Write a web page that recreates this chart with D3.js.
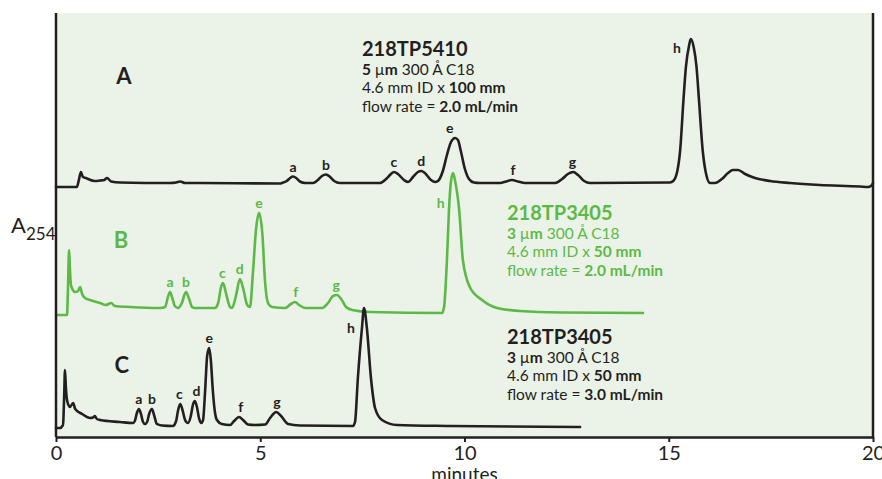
<!DOCTYPE html>
<html>
<head>
<meta charset="utf-8">
<script src="https://cdn.jsdelivr.net/npm/d3@7"></script>
<style>
  html, body { margin: 0; padding: 0; background: #ffffff; }
  svg { display: block; font-family: Lato, "Noto Sans", sans-serif; }
</style>
</head>
<body>
<svg id="chart" width="882" height="479"></svg>
<script>
// Retention time (minutes) and detector response above each trace's own baseline.
const traceATime = [0.00,0.51,0.56,0.61,0.66,0.73,0.95,1.08,1.18,1.25,1.35,1.57,2.79,2.94,3.04,3.16,3.53,5.48,5.53,5.65,5.73,5.80,5.88,5.97,6.10,6.29,6.41,6.51,6.61,6.71,6.81,6.95,7.93,8.08,8.20,8.27,8.37,8.52,8.62,8.74,8.86,8.94,9.03,9.18,9.28,9.35,9.47,9.57,9.67,9.77,9.84,9.91,10.01,10.11,10.23,10.38,10.87,11.02,11.16,11.31,11.48,12.22,12.39,12.53,12.66,12.78,12.93,13.07,15.03,15.11,15.21,15.28,15.36,15.42,15.50,15.54,15.61,15.68,15.74,15.83,15.92,16.01,16.13,16.30,16.45,16.57,16.70,16.87,17.11,17.48,17.97,18.70,19.68,19.88,19.95,20.00];
const traceAResp = [-4,-4,3,11,6,5,2,2.5,3,5,1.5,0.5,0,0.5,1.5,0,0,-0.5,0,2,5,6.5,5,1.5,0,0,3,7,8.5,6,2,0,0,4,9,11,9,3,1,6,11,12,10,3,1,2,12,28,41,45,43,32,14,4,0.5,0,0,1.5,3,1.5,0,0,4,9,11,8,2,0,0.5,2,12,33,83,116,138,144,136,116,83,33,8,0,0,4,10,13,13,9,5,2,0,-2,-3.5,-4,-3,0];

const traceBTime = [0.00,0.27,0.29,0.32,0.34,0.37,0.47,0.54,0.59,0.64,0.71,0.83,1.08,1.22,1.35,1.44,1.81,2.55,2.67,2.74,2.79,2.84,2.91,2.99,3.08,3.18,3.26,3.33,3.40,3.89,3.97,4.04,4.09,4.16,4.26,4.31,4.41,4.50,4.58,4.68,4.75,4.82,4.90,4.97,5.05,5.12,5.19,5.29,5.61,5.75,5.85,5.95,6.10,6.51,6.66,6.78,6.88,6.98,7.10,7.25,7.69,9.45,9.50,9.57,9.62,9.67,9.72,9.77,9.87,9.96,10.13,10.43,10.80,11.36,12.34,14.37];
const traceBResp = [-2,-2,20,63,45,27,21,22,26,19,15,13,10,8,10,7,6,5,6,16,21,16,7,5,10,21,14,6,5,5,10,26,30,20,6,5,18,34,25,8,6,40,85,100,80,30,10,6,5,9,11,8,5,5,10,17,18,14,6,3,1,0,6,53,103,132,140,132,103,53,26,13,5,2,0.5,0];

const traceCTime = [0.00,0.12,0.15,0.17,0.20,0.22,0.24,0.27,0.34,0.42,0.47,0.64,0.83,0.91,0.95,1.00,1.08,1.57,1.88,1.93,1.98,2.03,2.08,2.13,2.18,2.23,2.28,2.35,2.40,2.47,2.59,2.86,2.94,2.99,3.04,3.09,3.16,3.23,3.30,3.35,3.40,3.45,3.50,3.55,3.60,3.65,3.70,3.75,3.79,3.84,3.89,3.94,4.06,4.26,4.36,4.48,4.58,4.70,4.87,5.12,5.24,5.39,5.51,5.68,5.97,7.27,7.32,7.39,7.49,7.54,7.61,7.71,7.81,7.98,8.35,9.65,12.83];
const traceCResp = [-2,-2,0,0,30,56,40,26,19,23,17,12,8,8.5,10,7,6,4,3,5,13,17,12,4,2,4,12,17,11,2,0.5,0,5,16,22,17,6,3,10,21,25,19,8,3,6,35,70,78,66,35,14,6,2,1,5,9,6,1.5,1,1.5,8,14,10,2,0.5,0,4,48,98,118,98,48,18,6,1,0,-1];

// Peak letters: time and response level each letter sits on.
const peakNames = ["a","b","c","d","e","f","g","h"];
const peakTimeA = [5.80,6.61,8.27,8.94,9.64,11.19,12.64,15.20];
const peakRespA = [6.5,8.5,11,12,45,3,11,125];
const peakTimeB = [2.79,3.18,4.07,4.50,4.97,5.87,6.86,9.42];
const peakRespB = [21,21,30,34,100,11,18,100];
const peakTimeC = [2.03,2.35,3.02,3.44,3.75,4.52,5.41,7.22];
const peakRespC = [17,17,22,25,78,9,14,88];

const xTicks = [0,5,10,15,20];
const traceNames = ["A","B","C"];
const columnInfo = [
  {part:"218TP5410", particle:"5", length:"100 mm", flow:"2.0 mL/min"},
  {part:"218TP3405", particle:"3", length:"50 mm", flow:"2.0 mL/min"},
  {part:"218TP3405", particle:"3", length:"50 mm", flow:"3.0 mL/min"}
];

const INK = "#231f20";
const GREEN = "#5cb947";
const svg = d3.select("#chart");

const plot = {left: 56, right: 873, top: 13, bottom: 437};
const x = d3.scaleLinear().domain([0, 20]).range([plot.left, plot.right]);
const y = d3.scaleLinear().domain([0, 424]).range([plot.bottom, plot.top]);

// panel background
svg.append("rect")
  .attr("x", plot.left).attr("y", plot.top)
  .attr("width", plot.right - plot.left).attr("height", plot.bottom - plot.top)
  .attr("fill", "#ebf3e8");

// stacked traces, each lifted onto its own baseline
const traces = [
  {t:traceATime, r:traceAResp, lift:254, color:INK, pt:peakTimeA, pr:peakRespA, nameX:1.66, nameY:353, infoX:7.49, infoY:381},
  {t:traceBTime, r:traceBResp, lift:124, color:GREEN, pt:peakTimeB, pr:peakRespB, nameX:1.59, nameY:189, infoX:11.04, infoY:217},
  {t:traceCTime, r:traceCResp, lift:11, color:INK, pt:peakTimeC, pr:peakRespC, nameX:1.61, nameY:64, infoX:11.04, infoY:93}
];

const line = d3.line()
  .x(d => x(d[0]))
  .y(d => y(d[1]))
  .curve(d3.curveMonotoneX);

traces.forEach((tr, i) => {
  const pts = tr.t.map((t, k) => [t, tr.r[k] + tr.lift]);
  svg.append("path")
    .attr("d", line(pts))
    .attr("fill", "none")
    .attr("stroke", tr.color)
    .attr("stroke-width", 2.6)
    .attr("stroke-linejoin", "round")
    .attr("stroke-linecap", "round");

  // peak letters
  svg.append("g").selectAll("text")
    .data(peakNames)
    .join("text")
    .attr("x", (d, k) => x(tr.pt[k]))
    .attr("y", (d, k) => y(tr.pr[k] + tr.lift) - 5)
    .attr("text-anchor", "middle")
    .attr("font-size", 14)
    .attr("font-weight", 700)
    .attr("fill", tr.color)
    .text(d => d);

  // trace letter
  svg.append("text")
    .attr("x", x(tr.nameX)).attr("y", y(tr.nameY))
    .attr("text-anchor", "middle")
    .attr("font-size", 22)
    .attr("font-weight", 700)
    .attr("fill", tr.color)
    .text(traceNames[i]);

  // column description block
  const info = columnInfo[i];
  const g = svg.append("g")
    .attr("transform", `translate(${x(tr.infoX)},${y(tr.infoY)})`)
    .attr("fill", tr.color);
  g.append("text").attr("font-size", 20).attr("font-weight", 700).text(info.part);
  const l2 = g.append("text").attr("y", 18.5).attr("font-size", 15.5);
  l2.append("tspan").attr("font-weight", 700).text(info.particle + " ");
  l2.append("tspan").attr("font-weight", 400).text("µ");
  l2.append("tspan").attr("font-weight", 700).text("m");
  l2.append("tspan").attr("font-weight", 400).text(" 300 Å C18");
  const l3 = g.append("text").attr("y", 37).attr("font-size", 15.5);
  l3.append("tspan").attr("font-weight", 400).text("4.6 mm ID x ");
  l3.append("tspan").attr("font-weight", 700).text(info.length);
  const l4 = g.append("text").attr("y", 55.5).attr("font-size", 15.5);
  l4.append("tspan").attr("font-weight", 400).text("flow rate = ");
  l4.append("tspan").attr("font-weight", 700).text(info.flow);
});

// frame sides
[plot.left, plot.right].forEach(px => {
  svg.append("line")
    .attr("x1", px).attr("x2", px)
    .attr("y1", plot.top).attr("y2", plot.bottom)
    .attr("stroke", INK).attr("stroke-width", 2.5);
});

// time axis
const xAxis = svg.append("g")
  .attr("transform", `translate(0,${plot.bottom})`)
  .call(d3.axisBottom(x).tickValues(xTicks).tickSize(5).tickSizeOuter(0).tickPadding(4));
xAxis.select(".domain").attr("stroke", INK).attr("stroke-width", 2.5);
xAxis.selectAll(".tick line").attr("stroke", INK).attr("stroke-width", 2);
xAxis.selectAll(".tick text")
  .attr("fill", INK)
  .attr("font-size", 20)
  .attr("font-weight", 400)
  .attr("font-family", "Lato, 'Noto Sans', sans-serif");

svg.append("text")
  .attr("x", x(10)).attr("y", 481)
  .attr("text-anchor", "middle")
  .attr("font-size", 19)
  .attr("font-weight", 400)
  .attr("fill", INK)
  .text("minutes");

// absorbance label
const yl = svg.append("text")
  .attr("x", 11).attr("y", 233)
  .attr("fill", INK)
  .attr("font-weight", 400);
yl.append("tspan").attr("font-size", 22).text("A");
yl.append("tspan").attr("font-size", 17).attr("dy", 7).text("254");
</script>
</body>
</html>
